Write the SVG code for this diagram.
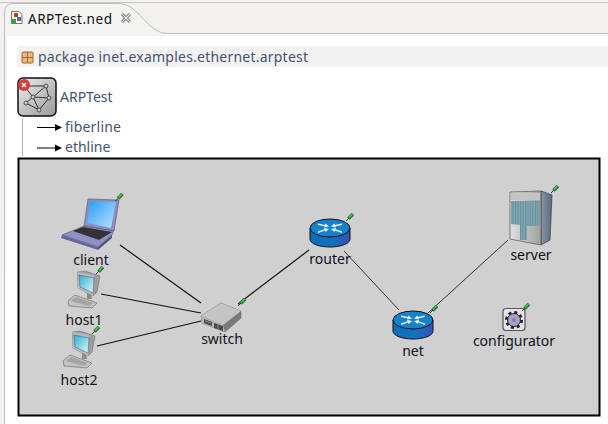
<svg xmlns="http://www.w3.org/2000/svg" width="608" height="424" viewBox="0 0 608 424">
<style>
text{font-family:"Noto Sans","Open Sans","DejaVu Sans",sans-serif}
.n{font-size:14px;fill:#10101c;text-anchor:middle}
.t{font-size:14px;fill:#44546f}
.c{stroke:#111;stroke-width:1.2;fill:none}
.c2{stroke:#333;stroke-width:1;fill:none}
</style>
<defs>
<linearGradient id="rb" x1="0" x2="1" y1="0" y2="0"><stop offset="0" stop-color="#0a70b8"/><stop offset=".55" stop-color="#1072c0"/><stop offset="1" stop-color="#3c50b4"/></linearGradient>
<linearGradient id="sc" x1="0" x2="1" y1="0" y2="1"><stop offset="0" stop-color="#2a9cf2"/><stop offset="1" stop-color="#b8e4ff"/></linearGradient>
<linearGradient id="ic" x1="0" x2="1" y1="0" y2="1"><stop offset="0" stop-color="#eee"/><stop offset="1" stop-color="#999"/></linearGradient>
<linearGradient id="mon" x1="0" x2="1" y1="0" y2="1"><stop offset="0" stop-color="#28b0d0"/><stop offset="1" stop-color="#e4f6fa"/></linearGradient>
<linearGradient id="tabg" x1="0" x2="0" y1="0" y2="1"><stop offset="0" stop-color="#f3f3f2"/><stop offset="1" stop-color="#fff"/></linearGradient>
<linearGradient id="srv" x1="0" x2="1" y1="0" y2="0"><stop offset="0" stop-color="#8a94a4"/><stop offset="1" stop-color="#5a6a80"/></linearGradient>
<linearGradient id="gr" x1="0" x2="1" y1="0" y2="0"><stop offset="0" stop-color="#e0e0e0"/><stop offset="1" stop-color="#a0a0a0"/></linearGradient>
<pattern id="gril" width="2.500" height="10" patternUnits="userSpaceOnUse"><rect width="2.500" height="10" fill="#7fa6b0"/><rect width="1" height="10" fill="#6a909c"/></pattern>
<g id="pin"><path d="M-4 4L-1 1" stroke="#333" stroke-width="1"/><path d="M-1.500 1.500L3 -3" stroke="#1f7a2c" stroke-width="3.600"/><path d="M-1 .5L2.500 -3" stroke="#58c060" stroke-width="1.400"/></g>
<g id="router">
<path d="M-20 -5V6C-20 11 -10 14 0 14C10 14 20 11 20 6V-5Z" fill="url(#rb)" stroke="#111" stroke-width="1"/>
<ellipse cx="0" cy="-5" rx="20" ry="9" fill="#1482cc" stroke="#111" stroke-width="1"/>
<path d="M-12 -9.500L-5 -8L-4.500 -9.500L-1 -6.500L-6 -5.500L-5.500 -6.800L-12 -8ZM12 -9.500L5 -8L4.500 -9.500L1 -6.500L6 -5.500L5.500 -6.800L12 -8ZM-12 0L-5 -2.500L-4.500 -1L-1 -4L-6 -5L-5.500 -3.700L-12 -1.500ZM12 0L5 -2.500L4.500 -1L1 -4L6 -5L5.500 -3.700L12 -1.500Z" fill="#f2f8fc"/>
</g>
<g id="host">
<path d="M2 3L6 5L7 12L2 12Z" fill="#8a8a90"/>
<path d="M-7.500 -15L0 -16L15 -11L12 5L8 9L-7 1Z" fill="#9c9ca2" stroke="#666" stroke-width=".5"/>
<path d="M-7.500 -15L9 -12L8 9L-7 1Z" fill="#b8b8be"/>
<path d="M-6 -12L9 -9L8 6L-5 0Z" fill="url(#mon)" stroke="#456" stroke-width=".5"/>
<path d="M-17 14L-10 8L12 16L7 21L-16 19Z" fill="#c2c2c2" stroke="#666" stroke-width=".6"/>
<path d="M-14 14L-9 10L8 16L4 19Z" fill="#a4a4a4"/>
</g>
</defs>
<rect width="608" height="424" fill="#f2f1f0"/>
<path d="M0 2.500H608" stroke="#c8c6c0" stroke-width="1"/>
<rect x="7" y="34" width="601" height="390" fill="#fff"/>
<path d="M4.500 36V13Q4.500 3.500 13 3.500H118C140 3.500 146 33.500 168 33.500H608V36H7V424H4.500Z" fill="url(#tabg)" stroke="none"/>
<path d="M4.500 424V13Q4.500 3.500 13 3.500H118C140 3.500 146 33.500 168 33.500H608" fill="none" stroke="#c0beb8" stroke-width="1"/>
<g id="tab">
<path d="M11.500 11.500H19L22 14.500V23.500H11.500Z" fill="#fdf8e8" stroke="#776"/>
<rect x="14" y="13" width="4" height="4" fill="#c33"/><rect x="17" y="17" width="4" height="4" fill="#56a"/><rect x="12" y="19" width="4" height="4" fill="#3a3"/>
<text x="28" y="24" font-size="13.600" fill="#111" textLength="84">ARPTest.ned</text>
<path d="M122 14L130 22M130 14L122 22" stroke="#444" stroke-width="2.600"/><path d="M122 14L130 22M130 14L122 22" stroke="#fff" stroke-width="1.200"/>
</g>
<rect x="17" y="46" width="591" height="21" fill="#f2f2f2"/>
<g id="package">
<rect x="22" y="52" width="11" height="11" rx="1" fill="#e5b982" stroke="#a8692a"/>
<path d="M27.500 52V63M22 57.500H33" stroke="#a8692a"/>
<text x="38" y="62" class="t" textLength="270">package inet.examples.ethernet.arptest</text>
</g>
<g id="ARPTest">
<rect x="18" y="78" width="38" height="38" rx="5" fill="url(#ic)" stroke="#111" stroke-width="1.500"/>
<path d="M24 86L46 86L49 98L39 110L26 103L33 97L24 86M33 97L46 86M33 97L49 98M33 97L39 110" fill="none" stroke="#333" stroke-width="1"/>
<g fill="#ccc" stroke="#333" stroke-width=".8"><circle cx="46" cy="86" r="2"/><circle cx="49" cy="98" r="2"/><circle cx="39" cy="110" r="2"/><circle cx="26" cy="103" r="2"/><circle cx="33" cy="97" r="2"/></g>
<circle cx="24" cy="85" r="6" fill="#d23c3c"/><path d="M22 83L26 87M26 83L22 87" stroke="#fff" stroke-width="1.500"/>
<text x="60" y="102" class="t">ARPTest</text>
</g>
<path d="M22.500 119V156" stroke="#b0b0a8"/>
<g id="fiberline"><path d="M37 127.500H56" stroke="#000"/><path d="M55 124L62 127.500L55 131Z" fill="#000"/><text x="65" y="132" class="t" textLength="56">fiberline</text></g>
<g id="ethline"><path d="M37 148H56" stroke="#000"/><path d="M55 144.500L62 148L55 151.500Z" fill="#000"/><text x="65" y="152" class="t">ethline</text></g>
<rect x="18.500" y="158.500" width="581" height="257" fill="#d0d0d0" stroke="#000" stroke-width="2"/>
<g id="connectors">
<path class="c" d="M120 245L201 303M101 294L201 313M97 346L201 321M309 250L238 304"/>
<path class="c2" d="M344 251L399 310M508 240L428 313"/>
</g>
<g id="client">
<path d="M62 235L84 226L114 230L112 235L98 247Z" fill="#9090c4" stroke="#556" stroke-width=".6"/>
<path d="M62 235L98 247V250L61 238Z" fill="#686898"/>
<path d="M98 247L112 235V238L98 250Z" fill="#55557f"/>
<path d="M88 199L119 200L114 231L84 226Z" fill="#8c8cc0" stroke="#556" stroke-width=".6"/>
<path d="M90 201L116 202L111 228L87 223Z" fill="url(#sc)"/>
<path d="M73 231L83 227L112 232L99 240Z" fill="#333"/>
<text x="91" y="265" class="n">client</text>
<use href="#pin" x="119.500" y="197"/>
</g>
<g id="host1"><use href="#host" x="85" y="287"/><text x="84" y="325" class="n">host1</text><use href="#pin" x="100" y="270"/></g>
<g id="host2"><use href="#host" x="80" y="347"/><text x="79" y="385" class="n">host2</text><use href="#pin" x="96" y="330"/></g>
<g id="switch">
<path d="M201 316L221 303L241 311V318L225 332L202 323Z" fill="#7a7a7a" stroke="#666" stroke-width=".5"/>
<path d="M201 316L221 303L241 311L223 325Z" fill="#c4c4c4"/>
<path d="M201 316L223 325L225 332L202 323Z" fill="#b4b4b4"/>
<path d="M204 319L212 322V326L204 323ZM214 323L223 326V331L214 328Z" fill="#4a4a4a"/>
<path d="M218 325V330M205 321L211 323" stroke="#aaa" stroke-width=".7"/>
<text x="222" y="344" class="n">switch</text>
<use href="#pin" x="242" y="302"/>
</g>
<g id="router_n"><use href="#router" x="330" y="233"/><text x="330" y="264" class="n">router</text><use href="#pin" x="350" y="217"/></g>
<g id="net"><use href="#router" x="413" y="325"/><text x="413" y="356" class="n">net</text><use href="#pin" x="434" y="309"/></g>
<g id="server">
<path d="M541 191L552 195L550 240L541 245Z" fill="url(#srv)" stroke="#444" stroke-width=".8"/>
<path d="M510 192L541 191V245L510 239Z" fill="url(#gr)" stroke="#555" stroke-width=".7"/>
<rect x="511" y="193" width="29" height="7" fill="#c4c4c4"/>
<path d="M511 201H540V226H527V240H520V225L511 224Z" fill="url(#gril)"/>
<text x="531" y="260" class="n">server</text>
<use href="#pin" x="555" y="189"/>
</g>
<g id="configurator">
<rect x="503" y="308.500" width="22" height="22" rx="3" fill="#e4e4e4" stroke="#555" stroke-width="1.200"/>
<circle cx="514" cy="320" r="7.500" fill="none" stroke="#222" stroke-width="3" stroke-dasharray="3 2.900"/>
<circle cx="514" cy="320" r="6.500" fill="#a8a0c8" stroke="#222"/>
<circle cx="514" cy="320" r="2" fill="#8880a8"/>
<text x="514" y="346" class="n">configurator</text>
<use href="#pin" x="526" y="307"/>
</g>
</svg>
